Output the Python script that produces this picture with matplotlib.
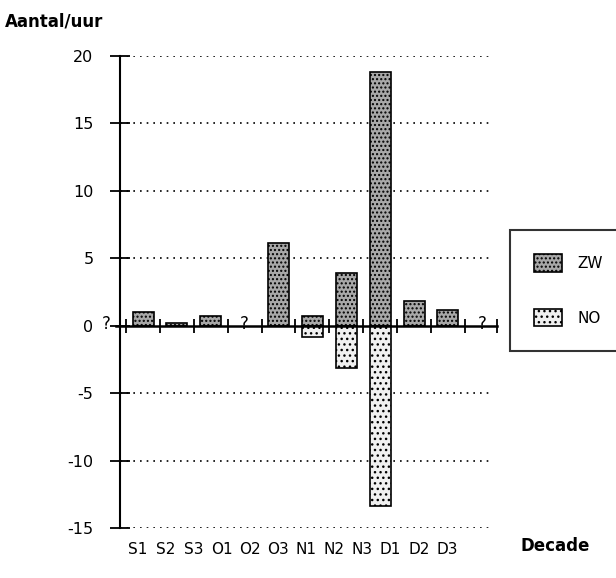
import numpy as np
import matplotlib
matplotlib.use("Agg")
import matplotlib.pyplot as plt

# decades, missing data marked with nan (drawn as "?")
decades = ["S1", "S2", "S3", "O1", "O2", "O3", "N1", "N2", "N3", "D1", "D2", "D3"]
zw = [np.nan, 1.0, 0.2, 0.7, np.nan, 6.1, 0.7, 3.9, 18.8, 1.8, 1.2, np.nan]
no = [np.nan, 0.0, 0.0, 0.0, np.nan, 0.0, -0.8, -3.1, -13.4, 0.0, 0.0, np.nan]
yticks = [20, 15, 10, 5, 0, -5, -10, -15]

plt.rcParams["font.family"] = "DejaVu Sans"
plt.rcParams["axes.unicode_minus"] = False
fig = plt.figure(figsize=(6.16, 5.78), dpi=100)
ax = fig.add_axes([120 / 616, 50 / 578, 377 / 616, 472 / 578])

x = np.arange(len(decades))
zw = np.array(zw)
no = np.array(no)
has_zw = ~np.isnan(zw)
has_no = ~np.isnan(no) & (no != 0)

ax.bar(x[has_zw], zw[has_zw], width=0.62, color="#a8a8a8", edgecolor="black",
       hatch="....", linewidth=1.2, label="ZW", zorder=3)
ax.bar(x[has_no], no[has_no], width=0.62, color="#f0f0f0", edgecolor="black",
       hatch="...", linewidth=1.2, label="NO", zorder=3)

# dotted grid lines
for y in yticks:
    if y != 0:
        ax.plot([0.32, 11.3], [y, y], color="black", linestyle=(0, (1, 3)),
                linewidth=1.2, zorder=1)

# zero line with tick crosses
ax.plot([0.2, 11.45], [0, 0], color="black", linewidth=1.8, zorder=4, clip_on=False)
ax.plot(x[:-1] + 0.5, np.zeros(len(x) - 1), linestyle="none", marker="|",
        markersize=10, markeredgewidth=1.3, color="black", zorder=4)
ax.plot([11.45], [0], marker="|", markersize=10, markeredgewidth=1.3,
        color="black", clip_on=False, zorder=4)

# missing values
for i in x[~has_zw]:
    ax.text(i - 0.1 if i == 0 else i, 0.15, "?", ha="center", va="center",
            fontsize=12, clip_on=False, zorder=5)

ax.set_xlim(0.32, 11.45)
ax.set_ylim(-15, 20)
ax.set_yticks(yticks)
ax.tick_params(axis="y", direction="inout", length=14, width=1.3, labelsize=11.5, pad=12)

label_x = np.linspace(0.83, 9.97, len(decades))
ax.set_xticks(label_x, decades)
ax.tick_params(axis="x", length=0, labelsize=11, pad=10)

for side in ["top", "right", "bottom"]:
    ax.spines[side].set_visible(False)
ax.spines["left"].set_linewidth(1.5)

fig.text(0.008, 1 - 22 / 578, "Aantal/uur", fontsize=12, fontweight="bold", va="center")
fig.text(520 / 616, 1 - 546 / 578, "Decade", fontsize=12, fontweight="bold", va="center")

ax.legend(loc="upper left", bbox_to_anchor=(510 / 616, 1 - 230 / 578),
          bbox_transform=fig.transFigure, frameon=True, fancybox=False,
          edgecolor="black", fontsize=11, handlelength=1.8, handleheight=1.4,
          labelspacing=2.4, borderpad=1.6, handletextpad=1.0, borderaxespad=0)
ax.get_legend().get_frame().set_linewidth(1.5)

fig.savefig("out.png", dpi=100)
